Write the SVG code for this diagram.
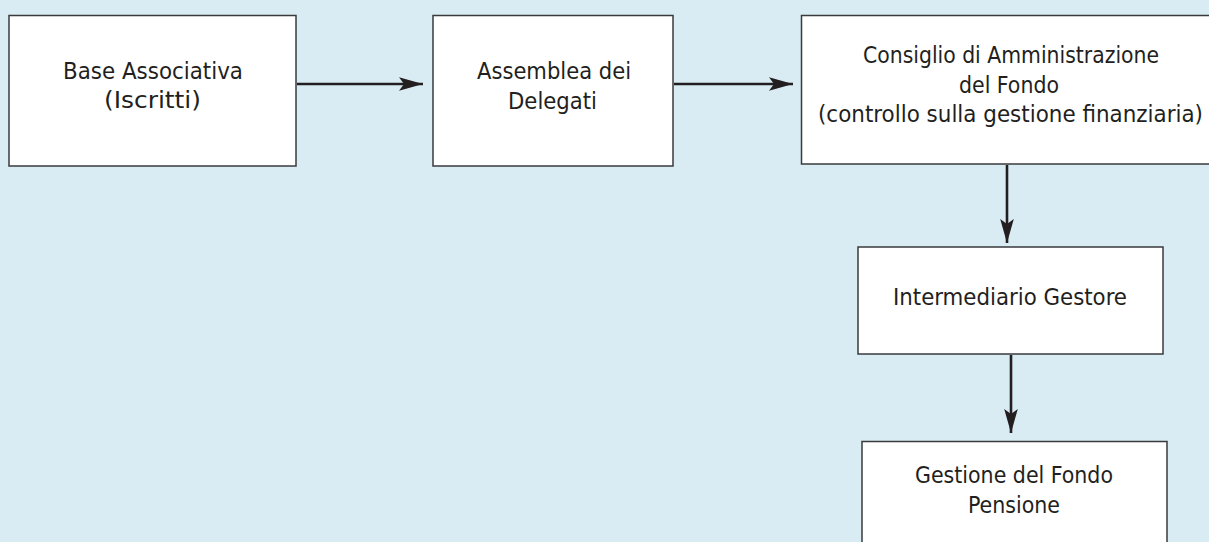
<svg xmlns="http://www.w3.org/2000/svg" width="1209" height="542" viewBox="0 0 1209 542">
  <style>
    .box { fill: #ffffff; stroke: #3a3a3c; stroke-width: 1.5; }
    .lbl { font-family: "DejaVu Sans Condensed", "Liberation Sans Narrow", "Liberation Sans", sans-serif; font-size: 23px; fill: #231f20; text-anchor: middle; }
    .conn { stroke: #231f20; stroke-width: 2.6; fill: none; }
  </style>
  <defs>
    <marker id="arrow" markerUnits="userSpaceOnUse" markerWidth="26" markerHeight="16" viewBox="-25 -8 26 16" refX="0" refY="0" orient="auto">
      <path d="M0,0 L-24,-6.8 L-19,0 L-24,6.8 Z" fill="#231f20"/>
    </marker>
  </defs>
  <rect x="0" y="0" width="1209" height="542" fill="#d9ecf4"/>

  <g id="node-base">
    <rect class="box" x="9" y="15.5" width="287" height="150.5"/>
    <text class="lbl" x="153" y="79" textLength="180" lengthAdjust="spacingAndGlyphs">Base Associativa</text>
    <text class="lbl" x="152.5" y="108" textLength="97" lengthAdjust="spacingAndGlyphs">(Iscritti)</text>
  </g>

  <g id="node-assemblea">
    <rect class="box" x="433" y="15.5" width="240" height="150.5"/>
    <text class="lbl" x="554" y="79" textLength="154" lengthAdjust="spacingAndGlyphs">Assemblea dei</text>
    <text class="lbl" x="552.5" y="109" textLength="89" lengthAdjust="spacingAndGlyphs">Delegati</text>
  </g>

  <g id="node-consiglio">
    <rect class="box" x="801.5" y="15.5" width="420" height="148.5"/>
    <text class="lbl" x="1011" y="63" textLength="296" lengthAdjust="spacingAndGlyphs">Consiglio di Amministrazione</text>
    <text class="lbl" x="1009" y="93" textLength="100" lengthAdjust="spacingAndGlyphs">del Fondo</text>
    <text class="lbl" x="1010.5" y="122" textLength="385" lengthAdjust="spacingAndGlyphs">(controllo sulla gestione finanziaria)</text>
  </g>

  <g id="node-intermediario">
    <rect class="box" x="858" y="247" width="305" height="107"/>
    <text class="lbl" x="1010" y="305" textLength="234" lengthAdjust="spacingAndGlyphs">Intermediario Gestore</text>
  </g>

  <g id="node-gestione">
    <rect class="box" x="862" y="441.5" width="305" height="110"/>
    <text class="lbl" x="1014" y="483" textLength="198" lengthAdjust="spacingAndGlyphs">Gestione del Fondo</text>
    <text class="lbl" x="1014" y="513" textLength="92" lengthAdjust="spacingAndGlyphs">Pensione</text>
  </g>

  <g id="connectors">
    <line class="conn" x1="297" y1="84" x2="423" y2="84" marker-end="url(#arrow)"/>
    <line class="conn" x1="674" y1="84" x2="793" y2="84" marker-end="url(#arrow)"/>
    <line class="conn" x1="1007" y1="165" x2="1007" y2="243" marker-end="url(#arrow)"/>
    <line class="conn" x1="1011" y1="355" x2="1011" y2="433" marker-end="url(#arrow)"/>
  </g>
</svg>
